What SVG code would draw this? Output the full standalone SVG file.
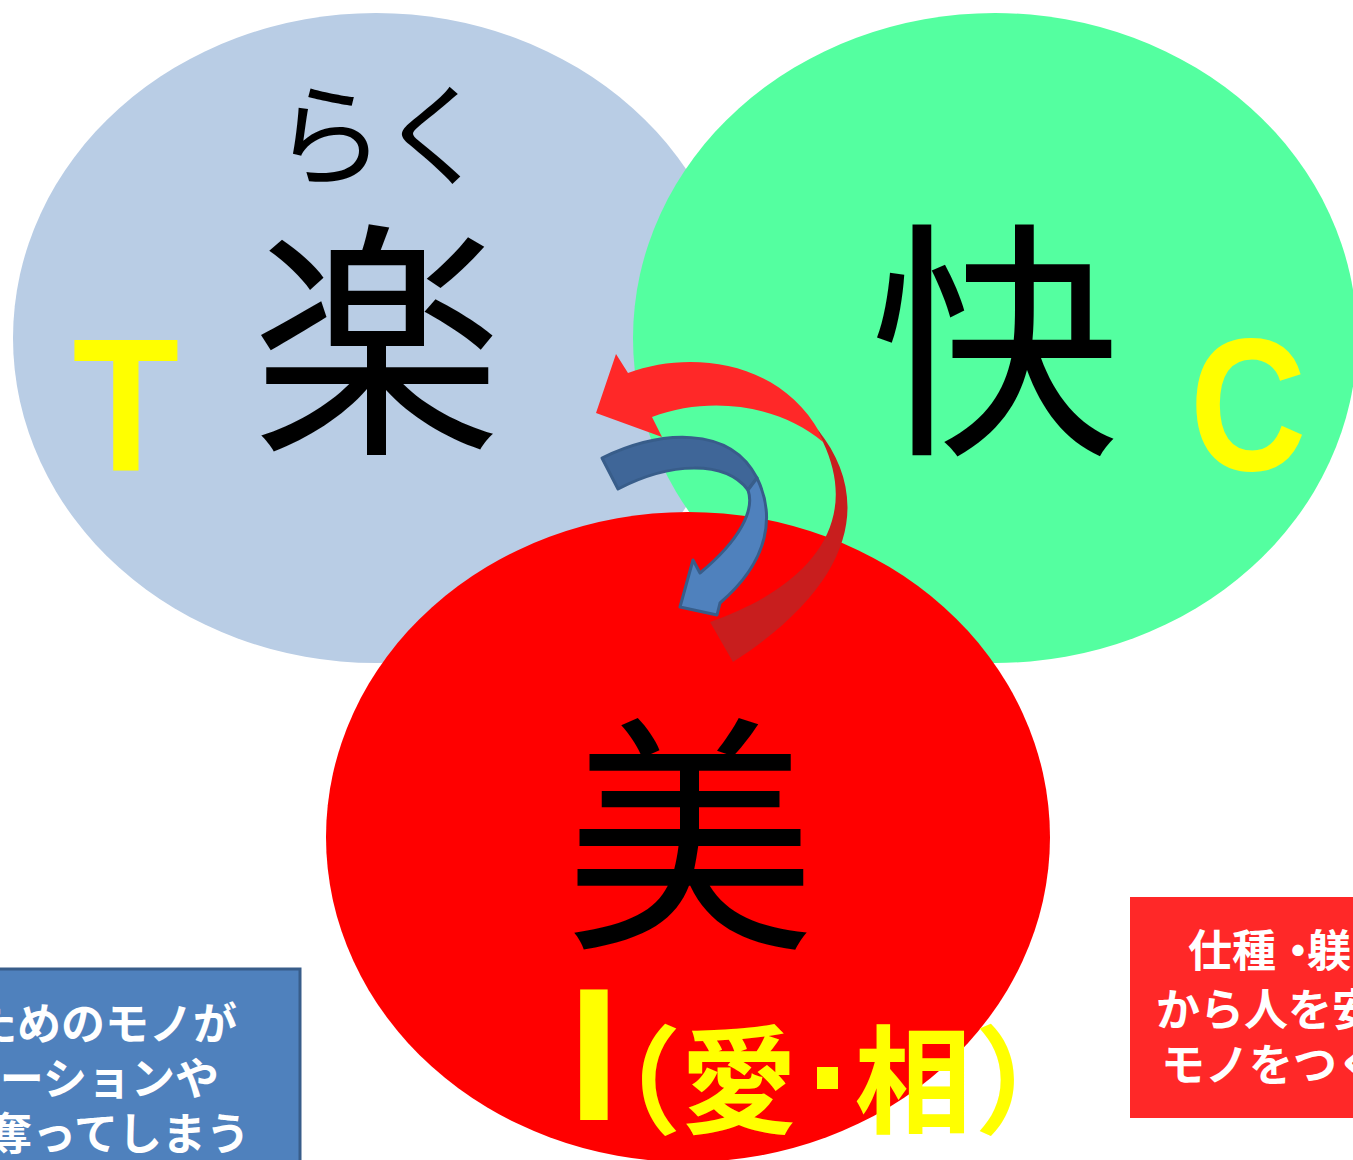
<svg xmlns="http://www.w3.org/2000/svg" width="1353" height="1160" viewBox="0 0 1353 1160">
<style>
.jp{font-family:"Noto Sans CJK JP","Noto Sans CJK SC",sans-serif}
.big{font-size:250px;fill:#000;text-anchor:middle}
.lat{font-family:"Liberation Sans",Arial,sans-serif;font-weight:bold;font-size:190px;fill:#FFFF00;text-anchor:middle}
.yl{font-weight:bold;font-size:117px;fill:#FFFF00;text-anchor:middle}
.wt{font-weight:bold;font-size:44px;fill:#fff}
</style>
<rect width="1353" height="1160" fill="#fff"/>
<g id="node-raku">
<ellipse cx="376" cy="338" rx="363" ry="325" fill="#B9CDE5"/>
<text class="jp" x="379" y="177" font-size="112" text-anchor="middle" letter-spacing="-6">らく</text>
<text class="jp big" x="377" y="435">楽</text>
<text class="lat" transform="translate(126,470) scale(0.92,1)" x="0" y="0">T</text>
</g>
<g id="node-kai">
<ellipse cx="995" cy="338" rx="362" ry="325" fill="#54FFA0"/>
<text class="jp big" x="995" y="435">快</text>
<text class="lat" transform="translate(1248,470) scale(0.85,1)" x="0" y="0">C</text>
</g>
<g id="node-bi">
<ellipse cx="688" cy="837" rx="362" ry="325" fill="#FF0000"/>
<text class="jp big" x="690" y="929">美</text>
<text class="lat" x="594" y="1120">I</text>
<text class="jp yl" x="623" y="1124" font-weight="normal">（</text>
<text class="jp yl" x="739" y="1124">愛</text>
<rect x="817" y="1067" width="21" height="22" fill="#FFFF00"/>
<text class="jp yl" x="913" y="1124">相</text>
<text class="jp yl" x="1033" y="1124" font-weight="normal">）</text>
</g>
<g id="connectors">
<g id="arrow-red">
<path d="M628,373 C690,350 780,360 820,433 L823,442 C780,405 710,395 652,417 L662,437 L596,413 L616,354 Z" fill="#FF2828"/>
<path d="M818,430 C870,495 860,580 733,662 L710,622 C815,585 860,520 823,442 Z" fill="#C81E1E"/>
</g>
<g id="arrow-blue" stroke="#385D8A" stroke-width="3" stroke-linejoin="round">
<path d="M602,458 C660,430 730,425 757,478 L748,490 C725,460 670,462 618,489 Z" fill="#3F6698"/>
<path d="M757,478 C775,515 770,560 720,603 L717,615 L680,607 L693,560 L700,573 C740,540 755,510 748,490 Z" fill="#4F81BD"/>
</g>
</g>
<g id="box-blue">
<rect x="-20" y="969" width="320" height="220" fill="#4F81BD" stroke="#385D8A" stroke-width="3"/>
<text class="jp wt" x="237" y="1040" text-anchor="end">ためのモノが</text>
<text class="jp wt" x="219" y="1095" text-anchor="end">ケーションや</text>
<text class="jp wt" x="250" y="1150" text-anchor="end">奪ってしまう</text>
</g>
<g id="box-red">
<rect x="1130" y="897" width="240" height="221" fill="#FF2828"/>
<text class="jp wt" x="1188" y="967">仕種・<tspan dx="-13">躾</tspan></text>
<text class="jp wt" x="1156" y="1026">から人を安</text>
<text class="jp wt" x="1161" y="1081">モノをつく</text>
</g>
</svg>
